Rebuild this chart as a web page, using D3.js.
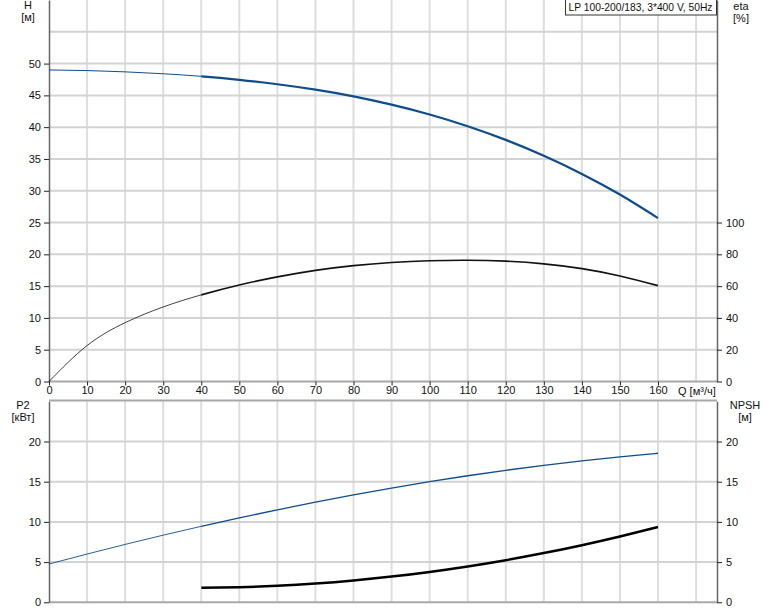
<!DOCTYPE html>
<html><head><meta charset="utf-8">
<script src="https://cdn.jsdelivr.net/npm/d3@7"></script>
<style>body{margin:0;background:#fff}svg{display:block}text{font-family:"Liberation Sans",Arial,sans-serif;font-size:11px;fill:#111}</style>
</head><body><svg id="c" width="774" height="611"></svg>
<script>
const flowQ = [0,10,20,30,40,50,60,70,80,90,100,110,120,130,140,150,160];
const headH = [49.0,48.9,48.7,48.4,48.0,47.45,46.75,45.9,44.85,43.55,42.0,40.15,38.0,35.5,32.65,29.4,25.7];
const etaPct = [0,22.6,37.0,46.9,54.5,60.7,65.8,69.9,72.9,74.9,76.0,76.3,75.7,74.0,71.0,66.4,60.3];
const powerP2 = [4.76,6.0,7.2,8.35,9.45,10.5,11.5,12.45,13.35,14.2,15.0,15.74,16.42,17.04,17.6,18.1,18.54];
const npshQ = [40,50,60,70,80,90,100,110,120,130,140,150,160];
const npshM = [1.8,1.88,2.06,2.34,2.72,3.2,3.78,4.46,5.24,6.12,7.1,8.18,9.36];
const xTicks = [0,10,20,30,40,50,60,70,80,90,100,110,120,130,140,150,160];
const hTicks = [0,5,10,15,20,25,30,35,40,45,50];
const etaTicks = [0,20,40,60,80,100];
const p2Ticks = [0,5,10,15,20];
const title = "LP 100-200/183, 3*400 V, 50Hz";

const svg = d3.select("#c");
const L = 49, R = 717;
const x = d3.scaleLinear().domain([0,175.5]).range([L,R]);
const yH = d3.scaleLinear().domain([0,60]).range([381.5,0]);
const yEta = d3.scaleLinear().domain([0,240]).range([381.5,0]);
const yB = d3.scaleLinear().domain([0,25]).range([602.3,401.3]);
const blue = "#0e4d8a";

function grid(yScale, hvals, top, bottom){
  const g = svg.append("g");
  for (let v=10; v<=170; v+=10) g.append("line").attr("x1",x(v)).attr("x2",x(v)).attr("y1",top).attr("y2",bottom).attr("stroke","#dedede").attr("stroke-width",2);
  hvals.forEach(v=>g.append("line").attr("x1",L).attr("x2",R).attr("y1",yScale(v)).attr("y2",yScale(v)).attr("stroke","#d2d4d4").attr("stroke-width",2));
}
grid(yH,[5,10,15,20,25,30,35,40,45,50,55],0,381.5);
grid(yB,[5,10,15,20],401,602.3);

svg.append("line").attr("x1",L).attr("x2",R).attr("y1",381.5).attr("y2",381.5).attr("stroke","#a8a8a8").attr("stroke-width",2);
svg.append("line").attr("x1",L).attr("x2",R).attr("y1",400.5).attr("y2",400.5).attr("stroke","#a8a8a8").attr("stroke-width",2);
svg.append("line").attr("x1",L).attr("x2",R).attr("y1",602.3).attr("y2",602.3).attr("stroke","#a8a8a8").attr("stroke-width",2);

const fmt = d3.format("d");
function styleAxis(g){ g.select(".domain").attr("stroke","#666").attr("stroke-width",1.5); g.selectAll(".tick line").attr("stroke","#222"); g.selectAll("text").attr("fill","#111").style("font-size","11px").style("font-family","Liberation Sans, Arial, sans-serif"); }
svg.append("g").attr("transform",`translate(${L},0)`).call(d3.axisLeft(yH).tickValues(hTicks).tickFormat(fmt).tickSize(5).tickSizeOuter(0).tickPadding(3)).call(styleAxis);
svg.append("g").attr("transform",`translate(${R},0)`).call(d3.axisRight(yEta).tickValues(etaTicks).tickFormat(fmt).tickSize(5).tickSizeOuter(0).tickPadding(4)).call(styleAxis);
svg.append("g").attr("transform",`translate(0,381.5)`).call(d3.axisBottom(x).tickValues(xTicks).tickFormat(fmt).tickSize(4).tickPadding(1)).call(g=>{styleAxis(g); g.select(".domain").remove();});
svg.append("g").attr("transform",`translate(${L},0)`).call(d3.axisLeft(yB).tickValues(p2Ticks).tickFormat(fmt).tickSize(5).tickSizeOuter(0).tickPadding(3)).call(styleAxis);
svg.append("g").attr("transform",`translate(${R},0)`).call(d3.axisRight(yB).tickValues(p2Ticks).tickFormat(fmt).tickSize(5).tickSizeOuter(0).tickPadding(4)).call(styleAxis);

let clipN = 0;
function drawCurve(qs, vals, yScale, color, thinW, thickW, split){
  const pts = qs.map((q,i)=>[q, vals[i]]);
  const line = d3.line().x(d=>x(d[0])).y(d=>yScale(d[1])).curve(d3.curveNatural);
  const id = "clip"+(clipN++);
  const defs = svg.append("defs");
  defs.append("clipPath").attr("id",id+"a").append("rect").attr("x",0).attr("y",0).attr("width",x(split)).attr("height",611);
  defs.append("clipPath").attr("id",id+"b").append("rect").attr("x",x(split)).attr("y",0).attr("width",774).attr("height",611);
  svg.append("path").attr("d",line(pts)).attr("fill","none").attr("stroke",color).attr("stroke-width",thinW).attr("clip-path",`url(#${id}a)`);
  svg.append("path").attr("d",line(pts)).attr("fill","none").attr("stroke",color).attr("stroke-width",thickW).attr("clip-path",`url(#${id}b)`);
}
drawCurve(flowQ, headH, yH, blue, 1, 2.2, 40);
drawCurve(flowQ, etaPct, yEta, "#111", 0.8, 1.6, 40);
drawCurve(flowQ, powerP2, yB, blue, 0.9, 1.3, 40);
drawCurve(npshQ, npshM, yB, "#000", 2.5, 2.5, 40);

function lab(t, xx, yy, anchor){ svg.append("text").attr("x",xx).attr("y",yy).attr("text-anchor",anchor||"middle").text(t); }
lab("H",28,9); lab("[м]",28,21);
lab("eta",741,10); lab("[%]",741,22);
lab("P2",23,409); lab("[кВт]",23,421);
lab("NPSH",745,409); lab("[м]",745,421);
lab("Q [м³/ч]",678,395,"start");

svg.append("rect").attr("x",565.5).attr("y",-1).attr("width",151).attr("height",16).attr("fill","#fff").attr("stroke","#333").attr("stroke-width",1);
svg.append("text").attr("x",568.5).attr("y",11).attr("textLength",144).attr("lengthAdjust","spacingAndGlyphs").text(title);
</script></body></html>
